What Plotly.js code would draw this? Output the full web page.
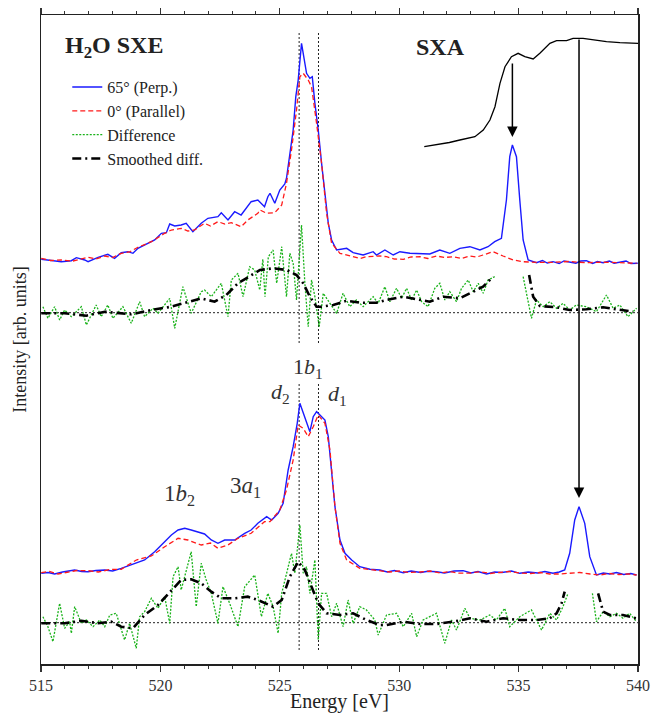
<!DOCTYPE html>
<html>
<head>
<meta charset="utf-8">
<script src="https://cdn.plot.ly/plotly-3.0.1.min.js"></script>
<style>html,body{margin:0;padding:0;background:#fff;}#chart{width:652px;height:713px;}</style>
</head>
<body>
<div id="chart"></div>
<script>
// ---------- Data (energy in eV, intensity in arbitrary units) ----------
// Upper panel: 65° (Perp.)
const upPerpE = [515.01,515.43,515.85,516.27,516.48,516.83,516.97,517.39,517.80,518.08,518.36,518.64,518.85,519.06,519.34,519.76,520.04,520.25,520.39,520.60,520.87,521.08,521.36,521.71,521.99,522.41,522.55,522.83,523.11,523.38,523.80,524.08,524.36,524.50,524.59,524.79,525.00,525.21,525.28,525.42,525.56,525.67,525.77,525.91,526.01,526.12,526.26,526.36,526.47,526.61,526.75,526.89,527.03,527.17,527.38,527.80,528.07,528.49,528.91,529.05,529.40,529.75,530.03,530.45,530.87,531.28,531.70,532.12,532.54,532.96,533.38,533.72,534.00,534.28,534.49,534.63,534.74,534.91,535.05,535.19,535.40,535.75,536.00,536.20,536.44,536.70,536.90,537.14,537.40,537.60,537.84,538.10,538.30,538.54,538.80,539.00,539.24,539.50,539.70,539.99];
const upPerpI = [404.7,403.3,402.3,403.3,406.3,404.0,402.3,406.7,409.7,405.7,411.3,412.3,410.7,415.7,419.0,424.0,430.7,431.3,440.0,438.0,439.0,440.7,432.3,440.7,445.7,447.3,451.3,444.0,452.3,449.0,462.3,464.0,457.3,467.3,470.7,460.7,474.0,480.0,485.7,510.7,534.0,567.3,584.0,620.7,604.0,590.7,585.7,587.3,560.7,534.0,500.7,467.3,440.7,424.0,414.0,415.7,411.3,409.0,412.3,409.0,414.0,409.0,412.3,410.7,410.7,410.0,414.0,410.7,415.7,417.3,414.0,417.3,422.3,425.7,464.0,507.3,519.0,507.3,464.0,424.0,404.0,401.3,403.5,401.0,402.3,400.5,403.0,401.7,400.8,403.0,403.3,400.5,402.5,401.3,403.0,400.8,401.7,403.0,400.5,400.7];

// Upper panel: 0° (Parallel)
const upParE = [515.01,515.40,515.85,516.30,516.97,517.30,517.67,518.00,518.36,518.70,519.06,519.62,520.18,520.46,520.87,521.15,521.43,521.85,522.10,522.41,522.70,522.97,523.38,523.66,524.08,524.17,524.45,524.79,525.08,525.28,525.49,525.70,525.84,525.98,526.19,526.33,526.54,526.75,526.96,527.17,527.52,528.07,528.35,528.63,529.19,529.47,529.80,530.17,530.50,530.87,531.20,531.56,531.90,532.26,532.60,532.96,533.25,533.51,533.93,534.35,534.77,535.19,535.80,536.44,537.10,537.84,538.50,539.24,539.94];
const upParI = [405.7,403.5,404.0,402.8,406.7,405.0,408.0,406.5,410.7,412.0,416.7,422.3,430.7,434.0,435.7,433.0,434.0,440.7,438.0,442.3,440.0,441.3,437.3,444.0,450.7,454.0,450.7,451.3,459.0,480.7,514.0,554.0,587.3,590.7,584.0,577.3,540.7,500.7,450.7,420.7,410.7,407.3,405.5,407.3,408.0,407.3,405.0,404.7,407.0,407.3,405.5,408.0,406.5,407.3,405.5,408.0,407.0,409.0,412.3,408.0,404.0,402.3,401.5,401.7,402.5,401.3,401.8,401.3,400.7];

// Upper panel: Difference
const upDiffE = [515.08,515.29,515.57,515.78,515.99,516.27,516.69,516.90,517.31,517.52,517.80,518.01,518.43,518.78,519.13,519.34,519.69,519.90,520.39,520.60,520.94,521.29,521.71,521.85,522.13,522.55,522.83,522.97,523.25,523.46,523.74,523.95,524.16,524.29,524.38,524.52,524.72,524.87,525.08,525.28,525.42,525.56,525.70,525.91,526.05,526.19,526.33,526.47,526.65,526.82,527.10,527.38,527.65,527.93,528.21,528.49,528.91,529.12,529.40,529.61,529.89,530.10,530.31,530.52,530.73,530.94,531.21,531.49,531.70,531.91,532.12,532.40,532.61,532.89,533.10,533.31,533.52,533.72,534.00,534.60,535.19,535.40,535.54,535.75,536.03,536.31,536.59,536.86,537.14,537.42,537.84,538.26,538.68,538.96,539.24,539.58,539.94];
const upDiffI = [357.3,345.7,357.3,344.0,354.0,347.3,357.3,339.0,359.0,347.3,359.0,345.7,357.3,340.7,362.3,347.3,355.7,350.7,365.7,335.7,377.3,350.7,372.3,374.0,367.3,380.7,347.3,384.0,390.7,367.3,397.3,394.0,374.0,404.7,367.3,407.3,414.0,380.7,417.3,367.3,410.7,400.7,364.0,439.0,380.7,337.3,384.0,367.3,337.3,370.7,360.7,350.7,370.7,357.3,364.0,357.3,367.3,360.7,377.3,362.3,375.7,365.7,375.7,364.0,374.0,362.3,357.3,375.7,380.7,364.0,372.3,362.3,375.7,384.0,372.3,380.7,370.7,384.0,387.3,null,387.3,360.7,345.7,364.0,357.3,362.3,355.7,360.7,354.0,359.0,357.3,352.3,369.0,355.7,359.0,347.3,355.7];

// Upper panel: Smoothed difference
const upSmoothE = [515.01,515.99,516.90,517.67,518.78,519.62,520.46,521.15,521.71,522.27,522.76,523.25,523.80,524.17,524.72,525.28,525.70,525.98,526.26,526.54,526.75,527.24,527.80,528.35,529.05,529.47,530.17,530.87,531.28,531.84,532.54,533.10,533.51,533.93,534.70,535.44,535.61,535.89,536.59,537.14,537.84,538.54,539.24,539.79];
const upSmoothI = [350.7,350.7,348.3,352.3,349.7,354.0,357.3,362.3,365.7,362.3,369.0,380.7,389.0,394.0,395.7,394.0,389.0,380.7,367.3,357.3,357.3,359.0,363.3,361.3,361.3,364.0,367.3,364.0,362.3,367.3,365.7,372.3,377.3,387.3,null,389.0,367.3,358.0,356.7,354.0,354.7,356.7,354.0,352.3];

// Lower panel: 65° (Perp.)
const loPerpE = [515.01,515.30,515.57,515.90,516.41,516.70,516.97,517.30,517.67,518.00,518.36,518.92,519.34,519.76,520.18,520.46,520.74,521.02,521.29,521.57,521.85,522.13,522.41,522.69,523.11,523.53,523.80,524.08,524.36,524.45,524.66,524.93,525.14,525.35,525.56,525.73,525.84,525.98,526.12,526.26,526.40,526.54,526.68,526.89,527.03,527.17,527.31,527.52,527.73,528.01,528.35,528.77,529.19,529.50,529.80,530.17,530.50,530.90,531.20,531.56,531.90,532.30,532.68,533.00,533.30,533.66,534.00,534.30,534.70,535.05,535.40,535.80,536.10,536.44,536.70,536.93,537.14,537.35,537.53,537.77,537.98,538.26,538.55,538.82,539.10,539.40,539.70,539.94];
const loPerpI = [90.7,91.5,90.0,92.0,94.0,92.5,92.3,93.5,94.0,93.0,95.7,100.0,104.0,112.3,122.3,129.0,134.0,135.7,134.0,132.3,130.0,124.0,120.7,124.0,124.0,130.7,134.0,140.7,145.7,147.3,144.0,150.7,160.7,194.0,217.3,240.7,260.7,250.7,240.7,232.3,247.3,252.3,249.0,244.0,227.3,190.7,157.3,124.0,110.7,104.0,97.3,94.7,94.0,92.0,93.5,91.3,93.0,91.5,92.8,92.3,91.0,93.0,93.3,91.0,92.5,90.0,92.0,91.5,93.0,90.7,92.0,91.0,92.5,90.7,92.0,94.0,110.7,144.0,157.3,140.7,107.3,89.0,91.0,90.0,91.5,89.5,90.5,89.0];

// Lower panel: 0° (Parallel)
const loParE = [515.01,515.35,515.71,516.10,516.50,516.97,517.40,517.90,518.36,518.99,519.62,520.18,520.74,521.15,521.71,522.10,522.41,522.83,523.25,523.80,524.36,524.59,525.00,525.28,525.56,525.77,525.98,526.19,526.40,526.61,526.89,527.10,527.31,527.52,527.80,528.35,528.80,529.19,529.60,530.00,530.40,530.87,531.30,531.70,532.10,532.50,532.96,533.40,533.80,534.20,534.60,535.05,535.50,535.90,536.30,536.72,537.10,537.56,538.00,538.40,538.80,539.20,539.60,539.94];
const loParI = [91.3,92.5,90.0,91.5,93.5,93.3,92.0,94.5,94.7,104.0,108.0,117.3,125.7,124.0,119.0,121.0,115.7,119.0,125.7,130.7,142.3,142.3,154.0,174.0,204.0,239.0,235.7,227.3,237.3,249.0,240.7,214.0,157.3,120.7,104.0,95.7,94.5,93.3,92.0,93.0,91.5,92.0,93.0,91.0,92.5,90.8,91.0,92.3,90.5,91.5,92.5,91.0,90.5,91.5,90.0,90.0,91.0,91.5,90.0,89.0,90.5,89.5,90.0,89.0];

// Lower panel: Difference
const loDiffE = [515.08,515.29,515.50,515.78,515.99,516.20,516.27,516.41,516.69,516.90,517.18,517.46,517.67,517.88,518.15,518.50,518.71,518.99,519.13,519.34,519.62,519.90,520.18,520.39,520.53,520.74,520.87,521.08,521.29,521.50,521.71,521.92,522.13,522.41,522.62,522.90,523.25,523.53,523.95,524.23,524.50,524.72,524.93,525.08,525.28,525.49,525.63,525.84,525.98,526.12,526.26,526.47,526.61,526.75,526.96,527.17,527.38,527.65,527.86,528.07,528.35,528.63,528.98,529.12,529.47,529.89,530.17,530.52,530.73,531.00,531.56,531.91,532.19,532.40,532.75,532.96,533.38,533.79,534.07,534.42,534.63,535.05,535.54,535.96,536.31,536.59,536.86,537.07,537.60,538.09,538.26,538.54,538.82,539.10,539.37,539.65,539.94];
const loDiffI = [47.3,37.3,22.3,60.7,35.7,42.3,30.7,57.3,40.7,44.0,37.3,44.0,37.3,49.0,50.7,24.0,40.7,15.7,47.3,52.3,65.7,55.7,67.3,40.7,87.3,97.3,74.0,94.0,112.3,57.3,100.7,84.0,70.7,40.7,77.3,60.7,37.3,77.3,89.0,47.3,70.7,57.3,30.7,70.7,90.7,110.7,90.7,139.0,90.7,97.3,70.7,104.0,24.0,70.7,70.7,47.3,60.7,37.3,64.0,40.7,57.3,54.0,44.0,29.0,49.0,50.7,37.3,50.7,27.3,44.0,50.7,20.7,44.0,34.0,55.7,45.7,44.0,49.0,44.0,55.7,37.3,47.3,54.0,34.0,50.7,44.0,57.3,70.7,null,70.7,42.3,52.3,47.3,50.7,45.7,50.7,42.3];

// Lower panel: Smoothed difference
const loSmoothE = [515.01,515.99,516.69,517.39,517.94,518.36,518.85,519.34,519.90,520.46,520.87,521.29,521.71,522.13,522.55,523.11,523.66,524.08,524.43,524.72,525.08,525.42,525.77,526.05,526.33,526.61,526.96,527.52,528.07,528.63,529.19,529.47,530.17,530.87,531.56,532.26,532.96,533.66,534.35,535.05,535.75,536.31,536.59,536.80,536.93,537.60,538.33,538.54,538.82,539.37,539.94];
const loSmoothI = [40.7,40.7,43.3,40.7,42.3,37.3,35.7,49.0,59.0,74.0,84.0,84.7,80.7,72.3,65.7,65.7,67.3,64.0,60.7,57.3,64.0,87.3,102.3,94.0,77.3,60.7,50.7,49.0,50.7,44.0,39.0,39.0,42.3,40.0,40.0,42.3,45.7,42.3,45.7,44.0,44.0,45.7,50.7,60.7,72.3,null,70.7,52.3,49.0,49.0,45.7];

// SXA absorption spectrum
const sxaE = [531.05,531.40,531.70,532.10,532.54,533.17,533.52,533.80,534.01,534.22,534.43,534.70,534.98,535.26,535.61,535.89,536.31,536.59,537.01,537.28,537.70,538.12,538.68,539.24,540.00];
const sxaI = [517.3,518.5,520.0,521.5,524.0,527.3,534.0,544.0,557.3,580.7,597.3,607.3,610.7,607.3,605.0,610.7,620.7,623.3,623.3,625.7,625.7,624.0,622.3,621.3,620.7];

// Reference lines and markers
const peakLinesE = [525.81, 526.62];          // d2 and d1 positions (dotted verticals)
const upperVLineSpan = [321, 631];            // intensity span of upper dotted verticals
const lowerVLineSpan = [14, 282];             // intensity span of lower dotted verticals
const baselinesI = [351.3, 41.3];             // zero lines of the two difference curves
const arrowE = [534.74, 537.53];              // SXA excitation energies
const arrowFromI = [602, 626];
const arrowToI = [527, 166];

const legendNames = ['65° (Perp.)', '0° (Parallel)', 'Difference', 'Smoothed diff.'];

// ---------- Styles ----------
const SERIF = 'Liberation Serif, Times New Roman, serif';
const sPerp = {color: '#1a1aff', width: 1.4};
const sPar = {color: '#ff1a1a', width: 1.3, dash: '5px,3px'};
const sDiff = {color: '#19b219', width: 1.3, dash: '2px,1.5px'};
const sSmooth = {color: '#000000', width: 2.6, dash: '9px,4px,2px,4px'};

function tr(x, y, line, name, show, group) {
  return {type: 'scatter', mode: 'lines', x: x, y: y, line: line, name: name,
          showlegend: show, legendgroup: group, connectgaps: false, hoverinfo: 'skip'};
}

const traces = [
  tr(upPerpE, upPerpI, sPerp, legendNames[0], true, 'a'),
  tr(upParE, upParI, sPar, legendNames[1], true, 'b'),
  tr(upDiffE, upDiffI, sDiff, legendNames[2], true, 'c'),
  tr(upSmoothE, upSmoothI, sSmooth, legendNames[3], true, 'd'),
  tr(loPerpE, loPerpI, sPerp, legendNames[0], false, 'a'),
  tr(loParE, loParI, sPar, legendNames[1], false, 'b'),
  tr(loDiffE, loDiffI, sDiff, legendNames[2], false, 'c'),
  tr(loSmoothE, loSmoothI, sSmooth, legendNames[3], false, 'd'),
  tr(sxaE, sxaI, {color: '#000', width: 1.3}, 'SXA', false, 'e')
];

const shapes = [];
peakLinesE.forEach(function (e) {
  [upperVLineSpan, lowerVLineSpan].forEach(function (sp) {
    shapes.push({type: 'line', xref: 'x', yref: 'y', x0: e, x1: e, y0: sp[0], y1: sp[1],
                 line: {color: '#222', width: 1, dash: '2px,2px'}, layer: 'below'});
  });
});
baselinesI.forEach(function (b) {
  shapes.push({type: 'line', xref: 'paper', yref: 'y', x0: 0, x1: 1, y0: b, y1: b,
               line: {color: '#222', width: 1, dash: '2px,2px'}, layer: 'below'});
});

const annotations = [];
arrowE.forEach(function (e, i) {
  annotations.push({xref: 'x', yref: 'y', axref: 'x', ayref: 'y', x: e, y: arrowToI[i], ax: e, ay: arrowFromI[i],
                    text: '', showarrow: true, arrowhead: 2, arrowsize: 1.4, arrowwidth: 1.5, arrowcolor: '#000'});
});
function lab(text, x, y, size, bold) {
  return {xref: 'x', yref: 'y', x: x, y: y, text: text, showarrow: false,
          font: {family: SERIF, size: size, color: bold ? '#222' : '#333', weight: bold ? 'bold' : 'normal'}};
}
annotations.push(lab('<b>H<sub>2</sub>O SXE</b>', 518.06, 617, 24, true));
annotations.push(lab('<b>SXA</b>', 531.74, 617, 24, true));
annotations.push(lab('1<i>b</i><sub>2</sub>', 520.78, 169, 23));
annotations.push(lab('3<i>a</i><sub>1</sub>', 523.58, 177, 23));
annotations.push(lab('1<i>b</i><sub>1</sub>', 526.18, 296, 22));
annotations.push(lab('<i>d</i><sub>2</sub>', 525.05, 271, 22));
annotations.push(lab('<i>d</i><sub>1</sub>', 527.43, 269, 22));

const layout = {
  width: 652, height: 713,
  margin: {l: 41, r: 14, t: 15, b: 49},
  paper_bgcolor: '#fff', plot_bgcolor: '#fff',
  font: {family: SERIF, color: '#222'},
  showlegend: true,
  xaxis: {
    range: [515, 540], tick0: 515, dtick: 5, ticks: 'outside', ticklen: 6, tickwidth: 1.2, tickcolor: '#333',
    minor: {dtick: 1, ticks: 'outside', ticklen: 3, tickwidth: 1, tickcolor: '#333'},
    showline: true, linecolor: '#222', linewidth: 1.5, mirror: 'ticks',
    showgrid: false, zeroline: false, tickfont: {family: SERIF, size: 16, color: '#333'},
    title: {text: 'Energy [eV]', font: {family: SERIF, size: 20, color: '#222'}, standoff: 4},
    automargin: false
  },
  yaxis: {
    range: [0, 649], showticklabels: false, ticks: '', showline: true, linecolor: '#222', linewidth: 1.5,
    mirror: true, showgrid: false, zeroline: false,
    title: {text: 'Intensity [arb. units]', font: {family: SERIF, size: 18, color: '#222'}, standoff: 8},
    automargin: false
  },
  legend: {x: 0.044, y: 0.915, xanchor: 'left', yanchor: 'top', bgcolor: 'rgba(0,0,0,0)',
           font: {family: SERIF, size: 16, color: '#222'}, tracegroupgap: 0},
  shapes: shapes,
  annotations: annotations
};

Plotly.newPlot('chart', traces, layout, {staticPlot: true, displayModeBar: false});
</script>
</body>
</html>
